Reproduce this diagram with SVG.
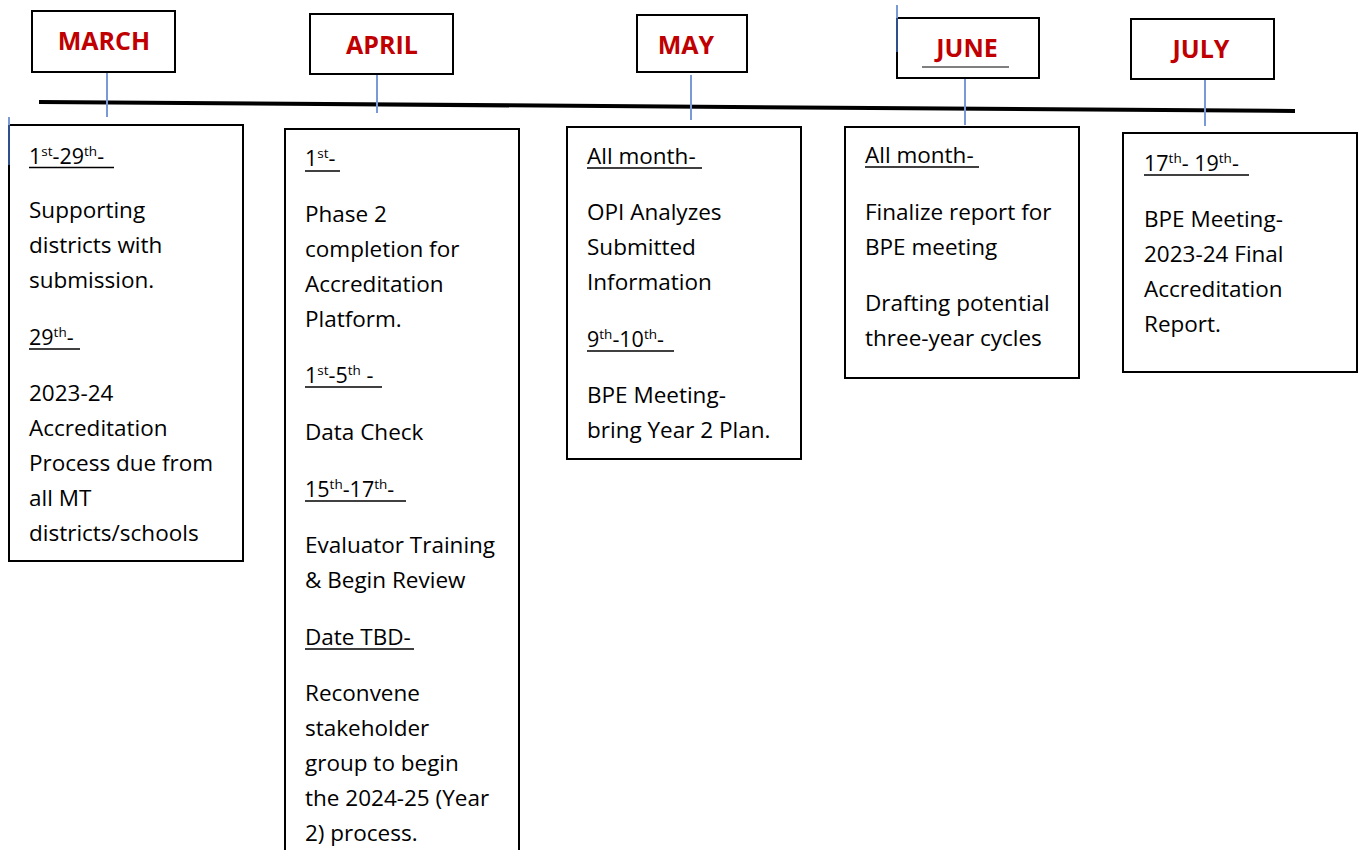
<svg xmlns="http://www.w3.org/2000/svg" width="1363" height="850" viewBox="0 0 1363 850">
<style>
.box{fill:#fff;stroke:#000;stroke-width:2}
.mon{font-family:"Open Sans","Liberation Sans",sans-serif;font-weight:bold;font-size:25px;fill:#C00000;text-anchor:middle}
.t{font-family:"Open Sans","Liberation Sans",sans-serif;font-size:22.5px;fill:#000}
.d{font-family:"Open Sans","Liberation Sans",sans-serif;font-size:21.5px;fill:#000}
.sup{font-size:13.5px}
.ul{stroke:#000;stroke-width:1.5}
.conn{stroke:#7A9AD6;stroke-width:2}
.dark{stroke:#2F4F8C;stroke-width:2}
.axis{stroke:#000;stroke-width:4}
</style>
<rect width="1363" height="850" fill="#fff"/>
<g id="connectors">
  <line class="axis" x1="39" y1="102" x2="1295" y2="111"/>
  <line class="conn" x1="107" y1="72" x2="107" y2="117"/>
  <line class="conn" x1="377" y1="75" x2="377" y2="113"/>
  <line class="conn" x1="691" y1="75" x2="691" y2="120"/>
  <line class="conn" x1="965" y1="79" x2="965" y2="125"/>
  <line class="conn" x1="1205" y1="80" x2="1205" y2="126"/>
</g>
<g id="march-header">
  <rect class="box" x="32" y="11" width="143" height="61"/>
  <text class="mon" x="104" y="50">MARCH</text>
</g>
<g id="april-header">
  <rect class="box" x="310" y="14" width="143" height="60"/>
  <text class="mon" x="382" y="54">APRIL</text>
</g>
<g id="may-header">
  <rect class="box" x="637" y="15" width="110" height="57"/>
  <text class="mon" x="686" y="54">MAY</text>
</g>
<g id="june-header">
  <rect class="box" x="897" y="18" width="142" height="60"/>
  <text class="mon" x="967" y="57">JUNE</text>
  <line x1="922" y1="67" x2="1009" y2="67" stroke="#000" stroke-width="1"/>
  <line class="conn" x1="897" y1="5" x2="897" y2="18"/>
  <line class="dark" x1="897" y1="18" x2="897" y2="52"/>
</g>
<g id="july-header">
  <rect class="box" x="1131" y="19" width="143" height="60"/>
  <text class="mon" x="1201" y="58">JULY</text>
</g>
<g id="march-box">
  <rect class="box" x="9" y="125" width="234" height="436"/>
  <line class="conn" x1="9" y1="117" x2="9" y2="125"/>
  <line class="dark" x1="9" y1="125" x2="9" y2="165"/>
  <text class="d" x="29" y="164">1<tspan class="sup" dy="-8">st</tspan><tspan dy="8">-29</tspan><tspan class="sup" dy="-8">th</tspan><tspan dy="8">-</tspan></text>
  <line class="ul" x1="29" y1="167.5" x2="114" y2="167.5"/>
  <text class="t" x="29" y="218">Supporting</text>
  <text class="t" x="29" y="253">districts with</text>
  <text class="t" x="29" y="288">submission.</text>
  <text class="d" x="29" y="345">29<tspan class="sup" dy="-8">th</tspan><tspan dy="8">-</tspan></text>
  <line class="ul" x1="29" y1="349" x2="80" y2="349"/>
  <text class="t" x="29" y="401">2023-24</text>
  <text class="t" x="29" y="436">Accreditation</text>
  <text class="t" x="29" y="471">Process due from</text>
  <text class="t" x="29" y="506">all MT</text>
  <text class="t" x="29" y="541">districts/schools</text>
</g>
<g id="april-box">
  <rect class="box" x="285" y="129" width="234" height="730"/>
  <text class="d" x="305" y="166">1<tspan class="sup" dy="-8">st</tspan><tspan dy="8">-</tspan></text>
  <line class="ul" x1="305" y1="171" x2="340" y2="171"/>
  <text class="t" x="305" y="222">Phase 2</text>
  <text class="t" x="305" y="257">completion for</text>
  <text class="t" x="305" y="292">Accreditation</text>
  <text class="t" x="305" y="327">Platform.</text>
  <text class="d" x="305" y="383">1<tspan class="sup" dy="-8">st</tspan><tspan dy="8">-5</tspan><tspan class="sup" dy="-8">th</tspan><tspan dy="8"> -</tspan></text>
  <line class="ul" x1="305" y1="387" x2="382" y2="387"/>
  <text class="t" x="305" y="440">Data Check</text>
  <text class="d" x="305" y="497">15<tspan class="sup" dy="-8">th</tspan><tspan dy="8">-17</tspan><tspan class="sup" dy="-8">th</tspan><tspan dy="8">-</tspan></text>
  <line class="ul" x1="305" y1="501" x2="406" y2="501"/>
  <text class="t" x="305" y="553">Evaluator Training</text>
  <text class="t" x="305" y="588">&amp; Begin Review</text>
  <text class="t" x="305" y="645">Date TBD-</text>
  <line class="ul" x1="305" y1="649" x2="414" y2="649"/>
  <text class="t" x="305" y="701">Reconvene</text>
  <text class="t" x="305" y="736">stakeholder</text>
  <text class="t" x="305" y="771">group to begin</text>
  <text class="t" x="305" y="806">the 2024-25 (Year</text>
  <text class="t" x="305" y="841">2) process.</text>
</g>
<g id="may-box">
  <rect class="box" x="567" y="127" width="234" height="332"/>
  <text class="t" x="587" y="164">All month-</text>
  <line class="ul" x1="587" y1="168" x2="702" y2="168"/>
  <text class="t" x="587" y="220">OPI Analyzes</text>
  <text class="t" x="587" y="255">Submitted</text>
  <text class="t" x="587" y="290">Information</text>
  <text class="d" x="587" y="347">9<tspan class="sup" dy="-8">th</tspan><tspan dy="8">-10</tspan><tspan class="sup" dy="-8">th</tspan><tspan dy="8">-</tspan></text>
  <line class="ul" x1="587" y1="351" x2="674" y2="351"/>
  <text class="t" x="587" y="403">BPE Meeting-</text>
  <text class="t" x="587" y="438">bring Year 2 Plan.</text>
</g>
<g id="june-box">
  <rect class="box" x="845" y="127" width="234" height="251"/>
  <text class="t" x="865" y="163">All month-</text>
  <line class="ul" x1="865" y1="167" x2="979" y2="167"/>
  <text class="t" x="865" y="220">Finalize report for</text>
  <text class="t" x="865" y="255">BPE meeting</text>
  <text class="t" x="865" y="311">Drafting potential</text>
  <text class="t" x="865" y="346">three-year cycles</text>
</g>
<g id="july-box">
  <rect class="box" x="1123" y="133" width="234" height="239"/>
  <text class="d" x="1144" y="171">17<tspan class="sup" dy="-8">th</tspan><tspan dy="8">- 19</tspan><tspan class="sup" dy="-8">th</tspan><tspan dy="8">-</tspan></text>
  <line class="ul" x1="1144" y1="175" x2="1249" y2="175"/>
  <text class="t" x="1144" y="227">BPE Meeting-</text>
  <text class="t" x="1144" y="262">2023-24 Final</text>
  <text class="t" x="1144" y="297">Accreditation</text>
  <text class="t" x="1144" y="332">Report.</text>
</g>
</svg>
